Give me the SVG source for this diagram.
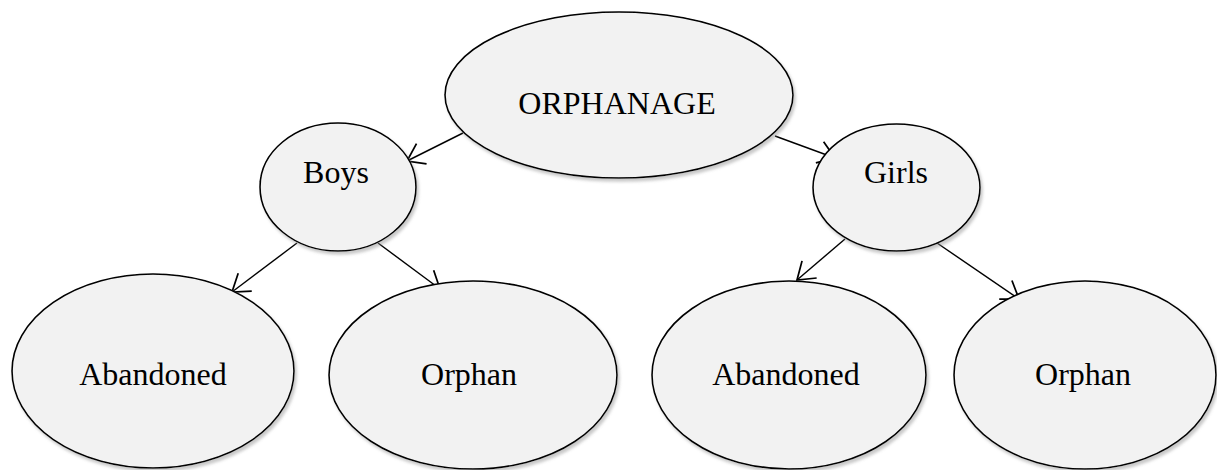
<svg xmlns="http://www.w3.org/2000/svg" width="1217" height="470" viewBox="0 0 1217 470">
<defs>
<style>
.node ellipse{fill:#f2f2f2;stroke:#000;stroke-width:1.6;filter:url(#sh)}
.node text{font-family:"Liberation Serif","Times New Roman",serif;font-size:32px;fill:#000;text-anchor:middle}
.edge{stroke:#000;stroke-width:1.4;fill:none;marker-end:url(#arr)}
</style>
<filter id="sh" x="-10%" y="-10%" width="125%" height="125%">
<feDropShadow dx="2" dy="3" stdDeviation="1.5" flood-color="#888" flood-opacity="0.45"/>
</filter>
<marker id="arr" markerUnits="userSpaceOnUse" markerWidth="30" markerHeight="30" refX="0" refY="0" viewBox="-16 -12 18 24" orient="auto" overflow="visible">
<path d="M-13,-9 L0,0 L-13,9" fill="none" stroke="#000" stroke-width="1.4"/>
</marker>
</defs>
<rect width="1217" height="470" fill="#fff"/>
<g id="connectors">
<line class="edge" x1="463" y1="133" x2="407" y2="161"/>
<line class="edge" x1="775" y1="136" x2="835" y2="158"/>
<line class="edge" x1="297" y1="243" x2="232" y2="292"/>
<line class="edge" x1="378" y1="243" x2="440" y2="289"/>
<line class="edge" x1="845" y1="239" x2="797" y2="280"/>
<line class="edge" x1="937" y1="243" x2="1019" y2="299"/>
</g>
<g id="orphanage" class="node">
<ellipse cx="619" cy="95" rx="174" ry="83"/>
<text x="617" y="114">ORPHANAGE</text>
</g>
<g id="boys" class="node">
<ellipse cx="338" cy="187" rx="78" ry="64"/>
<text x="336" y="183">Boys</text>
</g>
<g id="girls" class="node">
<ellipse cx="896.5" cy="187.5" rx="83.5" ry="63.5"/>
<text x="896" y="183">Girls</text>
</g>
<g id="boys-abandoned" class="node">
<ellipse cx="153" cy="371" rx="141" ry="97"/>
<text x="153" y="385">Abandoned</text>
</g>
<g id="boys-orphan" class="node">
<ellipse cx="473" cy="375" rx="144" ry="94"/>
<text x="469" y="385">Orphan</text>
</g>
<g id="girls-abandoned" class="node">
<ellipse cx="789" cy="375" rx="137" ry="94"/>
<text x="786" y="385">Abandoned</text>
</g>
<g id="girls-orphan" class="node">
<ellipse cx="1085" cy="375" rx="131" ry="94"/>
<text x="1083" y="385">Orphan</text>
</g>
</svg>
